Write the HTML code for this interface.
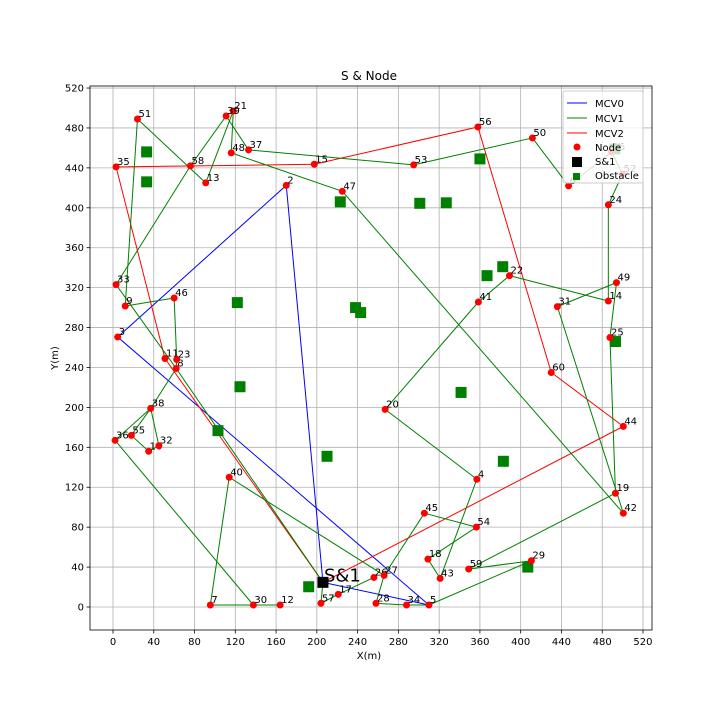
<!DOCTYPE html>
<html><head><meta charset="utf-8"><style>
body{margin:0;background:#fff;}
svg{display:block;font-family:"DejaVu Sans","Liberation Sans",sans-serif;}
</style></head><body>
<svg id="chart" width="720" height="720" viewBox="0 0 720 720" xmlns="http://www.w3.org/2000/svg">
<rect x="0" y="0" width="720" height="720" fill="#fff"/>
<g id="grid"></g>
<g id="routes"></g>
<g id="obst"></g>
<g id="nodes"></g>
<g id="axes"></g>
<text x="369" y="80" font-size="12" text-anchor="middle">S &amp; Node</text>
<text x="369" y="659" font-size="10" text-anchor="middle">X(m)</text>
<text x="58" y="358" font-size="10" text-anchor="middle" transform="rotate(-90 58 358)">Y(m)</text>
<g>
<rect x="563" y="91" width="80" height="92" rx="2" fill="#fff" fill-opacity="0.8" stroke="#ccc"/>
<line x1="567" y1="103" x2="587" y2="103" stroke="blue"/><text x="595" y="107" font-size="10">MCV0</text>
<line x1="567" y1="118" x2="587" y2="118" stroke="green"/><text x="595" y="122" font-size="10">MCV1</text>
<line x1="567" y1="133" x2="587" y2="133" stroke="red"/><text x="595" y="137" font-size="10">MCV2</text>
<circle cx="577" cy="147" r="3.5" fill="red"/><text x="595" y="151" font-size="10">Node</text>
<rect x="572" y="157" width="10" height="10" fill="#000"/><text x="595" y="165" font-size="10">S&amp;1</text>
<rect x="573" y="173" width="7" height="7" fill="green"/><text x="595" y="179" font-size="10">Obstacle</text>
</g>
</svg>
<script>
const nodeIds=[2,3,4,5,6,7,8,9,10,11,12,13,14,15,16,17,18,19,20,21,22,23,24,25,26,27,28,29,30,31,32,33,34,35,36,37,38,39,40,41,42,43,44,45,46,47,48,49,50,51,52,53,54,55,56,57,58,59,60];
const nodeX=[170,4.6,357,310,447,95.5,62,12,35,51,164,91,486,197.5,489,221,309,493,267,118,389,62.5,486,487.6,256,266,258,410.5,137.7,436,45,3,288,3,2,133,37,111,114,358.5,500.7,321,500.7,305.5,60,225,116,494,411.5,24,500,295,356.5,18,358,204,76,349,430];
const nodeY=[422.5,270.5,128,2,422,2,239,301.6,156,249,2,425,306.6,443.6,456,12.7,48,114,198,497,332,248,403,270,29.6,31.7,3.7,46.4,2,301,161.6,323,2,441,167,458,199,492,130,305.6,94,28.7,181,94,309.6,416.5,455,325,470,489,434,443,80,172,481,3.7,442,38,235];
const depotX=206, depotY=24.7;
const obstX=[33,33,122,238,243,223,360,301,327,367,382.4,493,492.5,124.6,103,210,192,341.5,383,407];
const obstY=[456,426,305,300,295,406,449,404.5,405,332,341,266,459,220.7,176.7,151,20.3,215,146,40];
const route0=[1,2,3,5,1];
const route2=[1,44,60,56,15,35,11,1];
const mcv1Edges=[[8,1],[46,23],[23,8],[33,8],[51,9],[9,46],[33,58],[58,39],[51,13],[13,21],[21,48],[39,37],[37,53],[48,47],[47,42],[53,50],[50,6],[6,16],[16,52],[52,24],[24,14],[14,22],[22,41],[41,20],[20,4],[4,43],[43,18],[18,54],[54,45],[45,27],[27,28],[28,34],[34,5],[5,29],[29,59],[59,19],[19,25],[25,49],[49,31],[31,42],[8,38],[38,36],[38,55],[38,32],[32,10],[10,55],[36,30],[7,12],[7,40],[40,27],[1,57],[57,17],[17,26]];
const xTicks=[0,40,80,120,160,200,240,280,320,360,400,440,480,520];
const yTicks=[0,40,80,120,160,200,240,280,320,360,400,440,480,520];
const X0=90,X1=652,Y0=86,Y1=630;
function sx(v){return 113+v*1.0192;}
function sy(v){return 607-v*0.998;}
const NS='http://www.w3.org/2000/svg';
function mk(tag,attrs,parent){const e=document.createElementNS(NS,tag);for(const k in attrs)e.setAttribute(k,attrs[k]);parent.appendChild(e);return e;}
function pos(id){if(id===1)return [depotX,depotY];const i=nodeIds.indexOf(id);return [nodeX[i],nodeY[i]];}
const grid=document.getElementById('grid'),axes=document.getElementById('axes');
xTicks.forEach(t=>{
  const l=mk('line',{x1:sx(t),x2:sx(t),y1:Y0,y2:Y1,stroke:'#b0b0b0','stroke-width':0.8},grid);
  
  
  mk('line',{x1:sx(t),x2:sx(t),y1:Y1,y2:Y1+3.5,stroke:'#000','stroke-width':0.8},axes);
  const tx=mk('text',{x:sx(t),y:Y1+15,'font-size':10,'text-anchor':'middle'},axes);
  tx.textContent=t;
  
  
});
yTicks.forEach(t=>{
  const l=mk('line',{x1:X0,x2:X1,y1:sy(t),y2:sy(t),stroke:'#b0b0b0','stroke-width':0.8},grid);
  
  
  mk('line',{x1:X0-3.5,x2:X0,y1:sy(t),y2:sy(t),stroke:'#000','stroke-width':0.8},axes);
  const tx=mk('text',{x:X0-6,y:sy(t)+3.5,'font-size':10,'text-anchor':'end'},axes);
  tx.textContent=t;
  
  
});
mk('rect',{x:X0,y:Y0,width:X1-X0,height:Y1-Y0,fill:'none',stroke:'#000','stroke-width':0.8},axes);
const routes=document.getElementById('routes');
function poly(r,color,name){const pts=r.map(id=>{const p=pos(id);return sx(p[0])+','+sy(p[1]);}).join(' ');
  const e=mk('polyline',{points:pts,fill:'none',stroke:color,'stroke-width':1},routes);
  
  }
poly(route0,'blue','route-mcv0');
poly(route2,'red','route-mcv2');
mcv1Edges.forEach(ed=>{const a=pos(ed[0]),b=pos(ed[1]);
  const e=mk('line',{x1:sx(a[0]),y1:sy(a[1]),x2:sx(b[0]),y2:sy(b[1]),stroke:'green','stroke-width':1},routes);
  
  });
const og=document.getElementById('obst');
obstX.forEach((x,i)=>{const e=mk('rect',{x:sx(x)-5.5,y:sy(obstY[i])-5.5,width:11,height:11,fill:'green'},og);
  
  });
const ng=document.getElementById('nodes');
nodeIds.forEach((id,i)=>{const c=mk('circle',{cx:sx(nodeX[i]),cy:sy(nodeY[i]),r:3.5,fill:'red'},ng);
  
  
  const t=mk('text',{x:sx(nodeX[i])+1,y:sy(nodeY[i])-2,'font-size':10},ng);t.textContent=id;
  
  });
const d=mk('rect',{x:sx(depotX)-5.5,y:sy(depotY)-5.5,width:11,height:11,fill:'#000'},ng);


const dl=mk('text',{x:sx(depotX)+1,y:sy(depotY)-1,'font-size':18},ng);dl.textContent='S&1';


</script>
</body></html>
